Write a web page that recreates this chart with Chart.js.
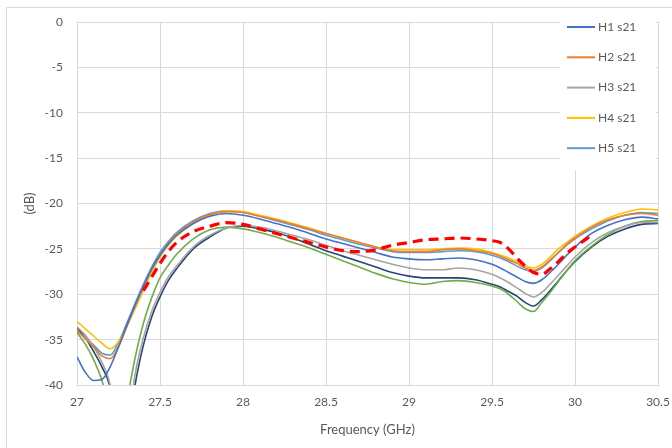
<!DOCTYPE html>
<html>
<head>
<meta charset="utf-8">
<script src="https://cdn.jsdelivr.net/npm/chart.js@4.4.1/dist/chart.umd.min.js"></script>
<style>
  html, body { margin: 0; padding: 0; background: #fff; }
  #wrap { width: 672px; height: 448px; position: relative; }
</style>
</head>
<body>
<div id="wrap"><canvas id="s21Chart"></canvas></div>
<script>
// frequency points (GHz)
const freq = [27.00, 27.05, 27.10, 27.15, 27.20, 27.25, 27.30, 27.35, 27.40, 27.45,
  27.50, 27.55, 27.60, 27.70, 27.80, 27.90, 28.00, 28.10, 28.20, 28.30,
  28.40, 28.50, 28.60, 28.70, 28.80, 28.90, 29.00, 29.10, 29.20, 29.30,
  29.40, 29.50, 29.55, 29.60, 29.65, 29.70, 29.75, 29.80, 29.85, 29.90,
  29.95, 30.00, 30.10, 30.20, 30.30, 30.40, 30.50];

// s21 in dB
const h1 = [-36.9, -38.6, -39.5, -39.4, -38.0, -35.8, -33.4, -31.2, -29.1, -27.2,
  -25.7, -24.5, -23.5, -22.2, -21.4, -21.1, -21.3, -21.7, -22.2, -22.7,
  -23.3, -23.9, -24.4, -24.9, -25.4, -25.9, -26.1, -26.2, -26.1, -26.0,
  -26.2, -26.7, -27.1, -27.6, -28.1, -28.6, -28.8, -28.4, -27.6, -26.7,
  -25.7, -24.8, -23.3, -22.4, -21.8, -21.5, -21.7];
const h2 = [-34.0, -34.9, -35.8, -36.8, -37.1, -35.8, -33.6, -31.3, -29.2, -27.3,
  -25.7, -24.4, -23.4, -22.0, -21.2, -20.9, -21.0, -21.4, -21.8, -22.3,
  -22.8, -23.3, -23.8, -24.3, -24.8, -25.2, -25.3, -25.3, -25.1, -25.0,
  -25.2, -25.5, -25.8, -26.2, -26.6, -27.1, -27.4, -27.0, -26.2, -25.4,
  -24.5, -23.8, -22.6, -21.8, -21.3, -21.1, -21.3];
const h3 = [-33.6, -34.5, -35.8, -37.5, -40.0, -46.0, -45.0, -38.8, -34.8, -31.9,
  -29.8, -28.1, -26.9, -24.8, -23.5, -22.7, -22.4, -22.6, -23.0, -23.5,
  -24.0, -24.6, -25.2, -25.7, -26.2, -26.7, -27.1, -27.3, -27.3, -27.1,
  -27.3, -27.8, -28.2, -28.7, -29.3, -29.9, -30.3, -29.8, -28.9, -27.9,
  -26.9, -25.9, -24.3, -23.2, -22.5, -22.1, -22.1];
const h4 = [-33.0, -33.8, -34.6, -35.4, -36.0, -35.2, -33.5, -31.6, -29.6, -27.6,
  -25.9, -24.6, -23.6, -22.2, -21.3, -20.8, -20.9, -21.3, -21.7, -22.2,
  -22.7, -23.3, -23.8, -24.3, -24.8, -25.1, -25.1, -25.1, -25.0, -24.9,
  -25.0, -25.4, -25.7, -26.0, -26.4, -26.9, -27.1, -26.7, -25.9, -25.0,
  -24.3, -23.6, -22.5, -21.6, -21.0, -20.6, -20.7];
const h5 = [-34.0, -34.8, -35.6, -36.5, -36.7, -35.3, -33.2, -31.0, -28.9, -27.0,
  -25.4, -24.2, -23.2, -21.9, -21.1, -20.8, -21.0, -21.4, -21.9, -22.4,
  -22.9, -23.5, -24.0, -24.5, -24.9, -25.3, -25.4, -25.4, -25.3, -25.2,
  -25.3, -25.7, -26.0, -26.4, -26.9, -27.3, -27.5, -27.1, -26.3, -25.4,
  -24.6, -23.9, -22.8, -21.9, -21.3, -21.0, -21.1];
const h6 = [-34.2, -35.5, -37.2, -39.5, -43.0, -48.0, -42.0, -37.0, -33.2, -30.4,
  -28.2, -26.8, -25.6, -23.9, -22.9, -22.6, -22.8, -23.2, -23.7, -24.3,
  -24.9, -25.6, -26.3, -27.0, -27.7, -28.3, -28.7, -28.9, -28.6, -28.5,
  -28.7, -29.1, -29.4, -30.0, -30.8, -31.6, -31.9, -30.9, -29.8, -28.6,
  -27.4, -26.3, -24.7, -23.4, -22.5, -22.0, -21.9];
const h7 = [-33.7, -34.8, -36.3, -38.0, -40.3, -46.0, -47.0, -40.0, -35.6, -32.5,
  -30.3, -28.5, -27.2, -25.0, -23.7, -22.7, -22.5, -22.8, -23.2, -23.8,
  -24.5, -25.2, -25.8, -26.4, -27.0, -27.6, -28.0, -28.2, -28.2, -28.2,
  -28.4, -28.9, -29.2, -29.7, -30.2, -30.9, -31.3, -30.6, -29.6, -28.5,
  -27.4, -26.4, -24.8, -23.6, -22.8, -22.3, -22.2];
const sim = [null, null, null, null, null, null, null, null, -29.6, -28.1,
  -26.6, -25.3, -24.3, -23.1, -22.5, -22.1, -22.3, -22.8, -23.3, -23.8,
  -24.3, -24.8, -25.2, -25.3, -25.1, -24.6, -24.3, -24.0, -23.9, -23.8,
  -23.9, -24.1, -24.3, -25.0, -26.0, -26.9, -27.6, -27.8, -27.2, -26.4,
  -25.5, -24.8, -23.5, null, null, null, null];

const xTicks = [27, 27.5, 28, 28.5, 29, 29.5, 30, 30.5];
const yTicks = [0, -5, -10, -15, -20, -25, -30, -35, -40];

const legendNames = ['H1 s21', 'H2 s21', 'H3 s21', 'H4 s21', 'H5 s21'];
const legendColors = ['#4472C4', '#ED7D31', '#A5A5A5', '#FFC000', '#5B9BD5'];

const pts = arr => freq.map((f, i) => ({ x: f, y: arr[i] }));

function line(label, arr, color, order) {
  return {
    label: label,
    data: pts(arr),
    borderColor: color,
    backgroundColor: color,
    borderWidth: 1.6,
    pointRadius: 0,
    cubicInterpolationMode: 'monotone',
    order: order
  };
}

const gridColor = '#D9D9D9';
const textColor = '#595959';
const fontFamily = 'Lato, "Open Sans", sans-serif';

// outer frame of the chart, like the spreadsheet border
const framePlugin = {
  id: 'frame',
  beforeDraw(chart) {
    const ctx = chart.ctx;
    ctx.save();
    ctx.strokeStyle = gridColor;
    ctx.lineWidth = 1;
    ctx.beginPath();
    ctx.moveTo(6.5, 448);
    ctx.lineTo(6.5, 7.5);
    ctx.lineTo(672, 7.5);
    ctx.stroke();
    ctx.restore();
  }
};

// legend box sitting over the top right of the plot
const legendPlugin = {
  id: 'boxLegend',
  afterDatasetsDraw(chart) {
    const ctx = chart.ctx;
    ctx.save();
    ctx.fillStyle = '#fff';
    ctx.fillRect(560, 12, 96, 158);
    ctx.font = '12px ' + fontFamily;
    ctx.textBaseline = 'middle';
    legendNames.forEach((name, i) => {
      const y = 27 + i * 30.3;
      ctx.strokeStyle = legendColors[i];
      ctx.lineWidth = 2;
      ctx.beginPath();
      ctx.moveTo(567, y);
      ctx.lineTo(595, y);
      ctx.stroke();
      ctx.fillStyle = textColor;
      ctx.fillText(name, 598, y);
    });
    ctx.restore();
  }
};

new Chart(document.getElementById('s21Chart'), {
  type: 'line',
  data: {
    datasets: [
      line('H1 s21', h1, '#4472C4', 2),
      line('H2 s21', h2, '#ED7D31', 2),
      line('H3 s21', h3, '#A5A5A5', 2),
      line('H4 s21', h4, '#FFC000', 2),
      line('H5 s21', h5, '#5B9BD5', 2),
      line('H6 s21', h6, '#70AD47', 2),
      line('H7 s21', h7, '#264478', 2),
      Object.assign(line('Sim s21', sim, '#FF0000', 0), { borderWidth: 3.2, borderDash: [10, 6] })
    ]
  },
  options: {
    responsive: true,
    maintainAspectRatio: false,
    animation: false,
    layout: { padding: { left: 0, top: 22, right: 14, bottom: 0 } },
    plugins: {
      legend: { display: false },
      tooltip: { enabled: false }
    },
    scales: {
      x: {
        type: 'linear',
        min: 27,
        max: 30.5,
        afterBuildTicks: axis => { axis.ticks = xTicks.map(v => ({ value: v })); },
        afterFit: axis => {
          axis.height = 63;
          axis.paddingLeft = 0;
          axis.paddingRight = 0;
        },
        grid: { color: gridColor, drawTicks: false },
        border: { color: gridColor },
        ticks: {
          color: textColor, padding: 10, maxRotation: 0,
          font: { family: fontFamily, size: 12 },
          callback: v => String(v)
        },
        title: { display: true, text: 'Frequency (GHz)', color: textColor, padding: { top: 0, bottom: 10 }, font: { family: fontFamily, size: 13 } }
      },
      y: {
        min: -40,
        max: 0,
        afterBuildTicks: axis => { axis.ticks = yTicks.map(v => ({ value: v })); },
        afterFit: axis => { axis.width = 77; },
        grid: { color: gridColor, drawTicks: false },
        border: { color: gridColor },
        ticks: { color: textColor, padding: 14, font: { family: fontFamily, size: 12 } },
        title: { display: true, text: '(dB)', color: textColor, padding: { top: 22, bottom: 0 }, font: { family: fontFamily, size: 13 } }
      }
    }
  },
  plugins: [framePlugin, legendPlugin]
});
</script>
</body>
</html>
